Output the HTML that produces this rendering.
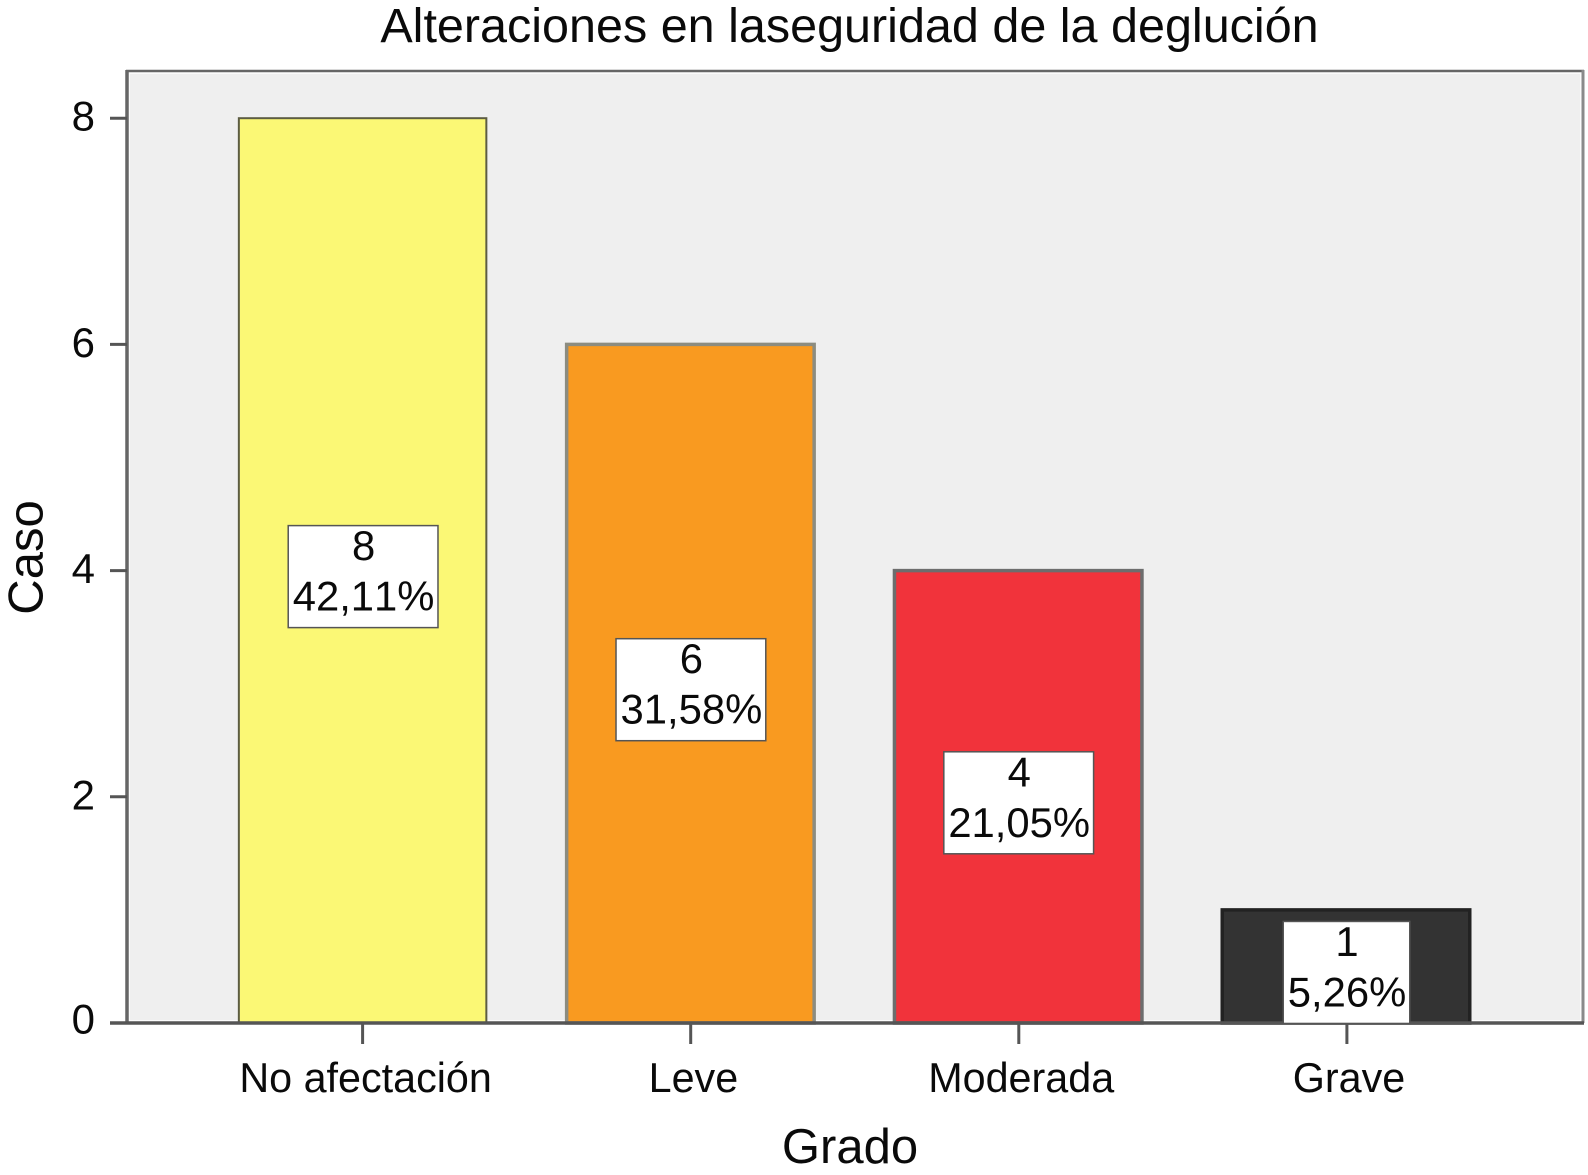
<!DOCTYPE html>
<html lang="es">
<head>
<meta charset="utf-8">
<title>Alteraciones en laseguridad de la deglución</title>
<style>
  html, body { margin: 0; padding: 0; background: #fff; width: 1588px; height: 1175px; overflow: hidden; }
  svg { display: block; }
  text { font-family: "Liberation Sans", Arial, sans-serif; fill: #0a0a0a; font-kerning: none; }
</style>
</head>
<body>
<svg id="chart" xmlns="http://www.w3.org/2000/svg" width="1588" height="1175" viewBox="0 0 1588 1175">
  <rect x="0" y="0" width="1588" height="1175" fill="#ffffff"/>
  <rect x="127" y="71" width="1456" height="952" fill="#fbfbfb"/>
  <rect x="130" y="74" width="1450" height="946" fill="#efefef"/>
  <line x1="126" y1="71" x2="1584" y2="71" stroke="#666666" stroke-width="2.5"/>
  <line x1="1583" y1="70" x2="1583" y2="1023" stroke="#8a8a8a" stroke-width="3"/>
  <line x1="127" y1="70" x2="127" y2="1024" stroke="#666666" stroke-width="3.5"/>
  <g id="bars"></g>
  <line x1="110" y1="1023" x2="1584" y2="1023" stroke="#555555" stroke-width="3.5"/>
  <g id="y-axis"></g>
  <g id="x-axis"></g>
  <g id="labels"></g>
  <text x="849.5" y="42" text-anchor="middle" font-size="48.5">Alteraciones en laseguridad de la deglución</text>
  <text x="42.5" y="557.5" text-anchor="middle" font-size="49" transform="rotate(-90 42.5 557.5)">Caso</text>
  <text x="850" y="1163" text-anchor="middle" font-size="49">Grado</text>
</svg>
<script>
const categories = ["No afectación", "Leve", "Moderada", "Grave"];
const caseCounts = [8, 6, 4, 1];
const percentLabels = ["42,11%", "31,58%", "21,05%", "5,26%"];
const yTicks = [0, 2, 4, 6, 8];
const barColors = ["#fbf875", "#f99a20", "#f1333b", "#333333"];
const barStrokes = ["#5c5c42", "#8c8c80", "#6d6d6d", "#222222"];

const NS = "http://www.w3.org/2000/svg";
const yBase = 1023, yUnit = 113.1;
const xFirst = 362.6, xStep = 327.8, barWidth = 247.5;
function yScale(v) { return yBase - v * yUnit; }
function xScale(i) { return xFirst + i * xStep; }
function make(tag, attrs, parent) {
  const el = document.createElementNS(NS, tag);
  for (const k in attrs) el.setAttribute(k, attrs[k]);
  parent.appendChild(el);
  return el;
}

const barsGroup = document.getElementById("bars");
const yGroup = document.getElementById("y-axis");
const xGroup = document.getElementById("x-axis");
const labelGroup = document.getElementById("labels");

yTicks.forEach(function (t) {
  const tick = make("line", { x1: 110, x2: 127, y1: yScale(t), y2: yScale(t), stroke: "#555555", "stroke-width": 3 }, yGroup);
  
  
  const lab = make("text", { x: 95, y: yScale(t) + (t === 0 ? 10.5 : 12.5), "text-anchor": "end", "font-size": 42 }, yGroup);
  lab.textContent = String(t);
  
  
});

categories.forEach(function (c, i) {
  const cx = xScale(i);
  const v = caseCounts[i];
  const top = yScale(v);
  const bar = make("rect", {
    x: cx - barWidth / 2, y: top, width: barWidth, height: yBase - top,
    fill: barColors[i], stroke: barStrokes[i], "stroke-width": i === 0 ? 2 : 3.5
  }, barsGroup);
  
  

  const tick = make("line", { x1: xFirst + i * 328.1, x2: xFirst + i * 328.1, y1: yBase, y2: 1044, stroke: "#555555", "stroke-width": 3 }, xGroup);
  
  
  const lab = make("text", { x: cx + 3, y: 1092, "text-anchor": "middle", "font-size": 41.3 }, xGroup);
  lab.textContent = c;
  
  

  const boxH = 102;
  const boxTop = yScale(v / 2) + 6 - boxH / 2;
  const box = make("rect", { y: boxTop, height: boxH, fill: "#ffffff", stroke: "#555555", "stroke-width": 1.5 }, labelGroup);
  
  
  const countText = make("text", { x: cx + 1, y: boxTop + 34.5, "text-anchor": "middle", "font-size": 41.8 }, labelGroup);
  countText.textContent = String(v);
  
  
  const pctText = make("text", { x: cx + 1, y: boxTop + 85, "text-anchor": "middle", "font-size": 41.8 }, labelGroup);
  pctText.textContent = percentLabels[i];
  
  
  const boxW = pctText.getComputedTextLength() + 8;
  box.setAttribute("x", cx + 0.5 - boxW / 2);
  box.setAttribute("width", boxW);
});
</script>
</body>
</html>
